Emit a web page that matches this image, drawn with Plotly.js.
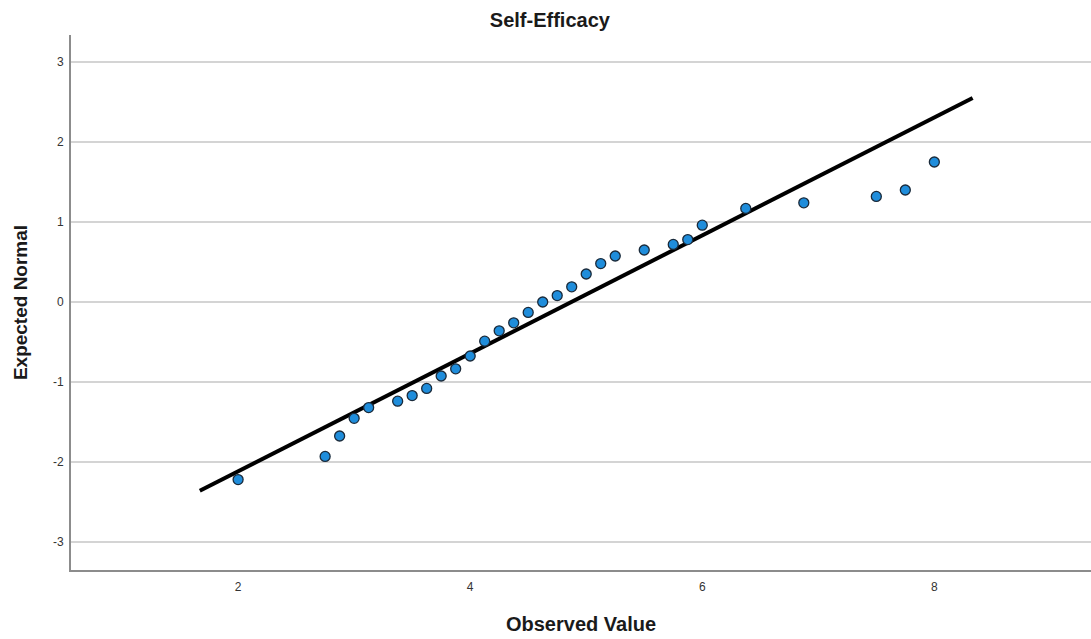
<!DOCTYPE html>
<html>
<head>
<meta charset="utf-8">
<script src="https://cdn.plot.ly/plotly-3.0.1.min.js"></script>
<style>html,body{margin:0;padding:0;background:#fff;}#chart{width:1091px;height:639px;}</style>
</head>
<body>
<div id="chart"></div>
<script>
const observed = [2.0, 2.75, 2.875, 3.0, 3.125, 3.375, 3.5, 3.625, 3.75, 3.875, 4.0, 4.125, 4.25, 4.375, 4.5, 4.625, 4.75, 4.875, 5.0, 5.125, 5.25, 5.5, 5.75, 5.875, 6.0, 6.375, 6.875, 7.5, 7.75, 8.0];
const expected = [-2.22, -1.93, -1.675, -1.454, -1.32, -1.24, -1.17, -1.08, -0.925, -0.835, -0.675, -0.49, -0.36, -0.26, -0.13, 0.0, 0.08, 0.19, 0.35, 0.48, 0.575, 0.65, 0.72, 0.78, 0.96, 1.17, 1.24, 1.32, 1.40, 1.75];
// Reference normal line endpoints
const lineX = [1.67, 8.33];
const lineY = [-2.36, 2.55];
const xTicks = [2, 4, 6, 8];
const yTicks = [-3, -2, -1, 0, 1, 2, 3];

const traces = [
  {
    x: lineX, y: lineY, type: 'scatter', mode: 'lines',
    line: {color: '#000000', width: 4},
    hoverinfo: 'skip', showlegend: false
  },
  {
    x: observed, y: expected, type: 'scatter', mode: 'markers',
    marker: {size: 10, color: '#1f8ddb', line: {color: '#1a2a3a', width: 1.3}},
    showlegend: false
  }
];

const layout = {
  width: 1091, height: 639,
  paper_bgcolor: '#ffffff', plot_bgcolor: '#ffffff',
  margin: {l: 71, r: 0, t: 35, b: 69},
  font: {family: 'Liberation Sans, Arial, sans-serif', color: '#333333'},
  title: {
    text: '<b>Self-Efficacy</b>',
    font: {size: 20, color: '#1a1a1a', family: 'Liberation Sans, Arial, sans-serif'},
    xref: 'container', yref: 'container', x: 0.504, y: 0.968,
    xanchor: 'center', yanchor: 'middle'
  },
  xaxis: {
    range: [0.56, 9.35],
    tickvals: xTicks, ticktext: xTicks.map(String),
    showgrid: false, zeroline: false,
    showline: true, linecolor: '#8c8c8c', linewidth: 2,
    ticks: '', tickfont: {size: 12, color: '#333333'},
    ticklabelstandoff: 5,
    title: {text: '<b>Observed Value</b>', font: {size: 20, color: '#1a1a1a'}, standoff: 24}
  },
  yaxis: {
    range: [-3.35, 3.3375],
    tickvals: yTicks, ticktext: yTicks.map(String),
    showgrid: true, gridcolor: '#d4d4d4', gridwidth: 1.5,
    zeroline: false,
    showline: true, linecolor: '#8c8c8c', linewidth: 2,
    ticks: '', tickfont: {size: 12, color: '#333333'},
    ticklabelstandoff: 3,
    title: {text: '<b>Expected Normal</b>', font: {size: 19, color: '#1a1a1a'}, standoff: 20}
  }
};

Plotly.newPlot('chart', traces, layout, {displayModeBar: false, staticPlot: true});
</script>
</body>
</html>
